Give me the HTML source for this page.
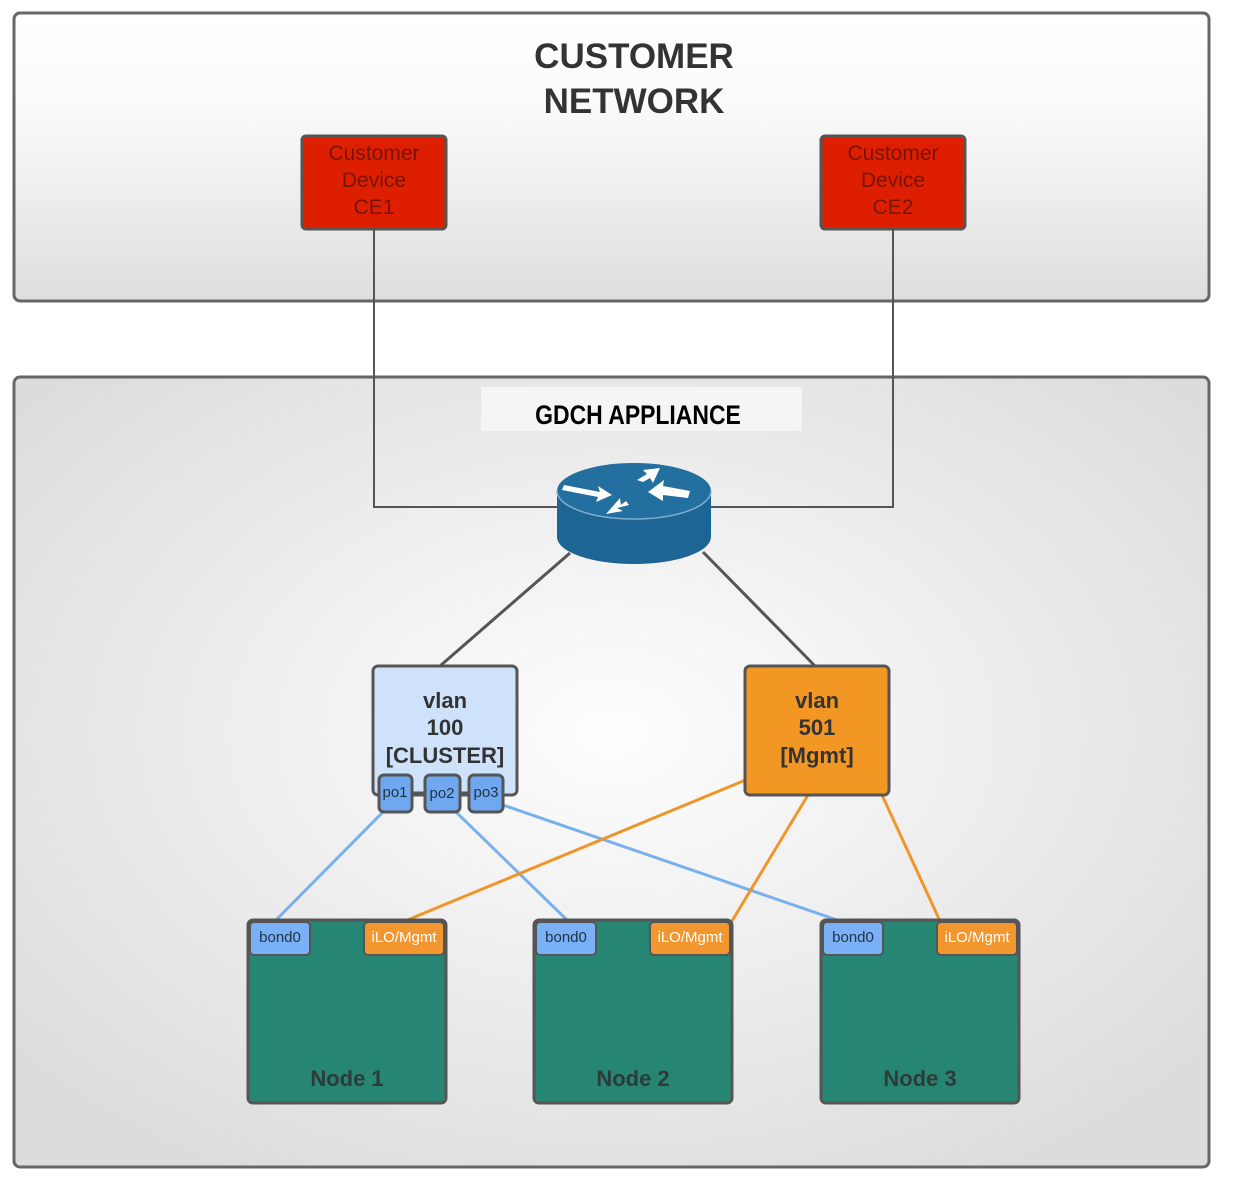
<!DOCTYPE html>
<html><head><meta charset="utf-8"><style>html,body{margin:0;padding:0;background:#fff}svg{display:block}</style></head><body>
<svg width="1241" height="1190" viewBox="0 0 1241 1190" xmlns="http://www.w3.org/2000/svg" font-family="Liberation Sans, Arial, sans-serif">
<defs>
<linearGradient id="g1" x1="0" y1="0" x2="0" y2="1"><stop offset="0" stop-color="#fff"/><stop offset="0.3" stop-color="#fbfbfb"/><stop offset="1" stop-color="#dedede"/></linearGradient>
<radialGradient id="g2" cx="0.5" cy="0.45" r="0.65"><stop offset="0" stop-color="#fefefe"/><stop offset="1" stop-color="#dcdcdc"/></radialGradient>
</defs>
<rect x="0" y="0" width="1241" height="1190" fill="#fff"/>
<rect x="14" y="13" width="1195" height="288" rx="6" fill="url(#g1)" stroke="#666" stroke-width="3"/>
<text x="634" y="68" text-anchor="middle" font-size="35" font-weight="bold" fill="#333">CUSTOMER</text>
<text x="634" y="113" text-anchor="middle" font-size="35" font-weight="bold" fill="#333">NETWORK</text>
<rect x="14" y="377" width="1195" height="790" rx="6" fill="url(#g2)" stroke="#666" stroke-width="3"/>
<rect x="481" y="387" width="321" height="44" fill="#f5f5f5"/>
<text x="638" y="424" text-anchor="middle" font-size="27" font-weight="bold" fill="#000" transform="translate(638 0) scale(0.85 1) translate(-638 0)">GDCH APPLIANCE</text>
<path d="M374 229 V507 H560 M893 229 V507 H710" fill="none" stroke="#555" stroke-width="2"/>
<g font-size="21" fill="#7a1408" text-anchor="middle">
<rect x="302" y="136" width="144" height="93" rx="4" fill="#dd1f00" stroke="#555" stroke-width="3"/>
<text x="374" y="160">Customer</text><text x="374" y="187">Device</text><text x="374" y="214">CE1</text>
<rect x="821" y="136" width="144" height="93" rx="4" fill="#dd1f00" stroke="#555" stroke-width="3"/>
<text x="893" y="160">Customer</text><text x="893" y="187">Device</text><text x="893" y="214">CE2</text>
</g>
<line x1="570" y1="553" x2="440" y2="666" stroke="#555" stroke-width="3"/>
<line x1="703" y1="552" x2="815" y2="666" stroke="#555" stroke-width="3"/>
<path d="M557 491 V537 A77 27 0 0 0 711 537 V491 Z" fill="#1c6594"/>
<ellipse cx="634" cy="491" rx="77" ry="28" fill="#236f9f"/>
<path d="M557 491 A77 28 0 0 0 711 491" fill="none" stroke="#7fb0d0" stroke-width="1.5"/>
<g fill="#fff">
<polygon points="564,485 600,492 598,486 612,495 596,502 598,497 562,490"/>
<polygon points="643,482 650,478 653,483 660,468 643,470 647,474 637,480"/>
<polygon points="688,498 690,491 663,486 664,480 648,492 663,501 663,495"/>
<polygon points="626,501 621,505 620,498 606,514 623,511 617,508 629,505"/>
</g>
<g stroke="#79b0ee" stroke-width="3">
<line x1="384" y1="811" x2="275" y2="921"/>
<line x1="455" y1="811" x2="568" y2="921"/>
<line x1="500" y1="804" x2="840" y2="921"/>
</g>
<g stroke="#f0952a" stroke-width="3">
<line x1="748" y1="779" x2="405" y2="921"/>
<line x1="808" y1="795" x2="732" y2="921"/>
<line x1="882" y1="795" x2="940" y2="921"/>
</g>
<rect x="373" y="666" width="144" height="129" rx="5" fill="#cfe2fb" stroke="#555" stroke-width="3"/>
<g font-size="22" font-weight="bold" fill="#333" text-anchor="middle">
<text x="445" y="708">vlan</text><text x="445" y="735">100</text><text x="445" y="763">[CLUSTER]</text>
</g>
<rect x="745" y="666" width="144" height="129" rx="5" fill="#f29624" stroke="#555" stroke-width="3"/>
<g font-size="22" font-weight="bold" fill="#333" text-anchor="middle">
<text x="817" y="708">vlan</text><text x="817" y="735">501</text><text x="817" y="763">[Mgmt]</text>
</g>
<line x1="412" y1="793" x2="469" y2="793" stroke="#555" stroke-width="3"/>
<g fill="#6fa8f0" stroke="#555" stroke-width="3">
<rect x="379" y="775" width="33" height="37" rx="5"/>
<rect x="425" y="775" width="35" height="37" rx="5"/>
<rect x="469" y="775" width="34" height="37" rx="5"/>
</g>
<g font-size="15" fill="#234" text-anchor="middle">
<text x="395" y="797">po1</text><text x="442" y="798">po2</text><text x="486" y="797">po3</text>
</g>
<g font-size="15" fill="#234">
<g>
<rect x="248" y="920" width="198" height="183" rx="5" fill="#278573" stroke="#555" stroke-width="3"/>
<rect x="250" y="922" width="60" height="33" rx="4" fill="#7ab0f5" stroke="#555" stroke-width="2"/>
<rect x="364" y="922" width="80" height="33" rx="4" fill="#f29630" stroke="#555" stroke-width="2"/>
<text x="280" y="942" text-anchor="middle">bond0</text><text x="404" y="942" text-anchor="middle" fill="#fff">iLO/Mgmt</text>
<text x="347" y="1086" text-anchor="middle" font-size="22" font-weight="bold" fill="#2f3b38">Node 1</text>
</g>
<g>
<rect x="534" y="920" width="198" height="183" rx="5" fill="#278573" stroke="#555" stroke-width="3"/>
<rect x="536" y="922" width="60" height="33" rx="4" fill="#7ab0f5" stroke="#555" stroke-width="2"/>
<rect x="650" y="922" width="80" height="33" rx="4" fill="#f29630" stroke="#555" stroke-width="2"/>
<text x="566" y="942" text-anchor="middle">bond0</text><text x="690" y="942" text-anchor="middle" fill="#fff">iLO/Mgmt</text>
<text x="633" y="1086" text-anchor="middle" font-size="22" font-weight="bold" fill="#2f3b38">Node 2</text>
</g>
<g>
<rect x="821" y="920" width="198" height="183" rx="5" fill="#278573" stroke="#555" stroke-width="3"/>
<rect x="823" y="922" width="60" height="33" rx="4" fill="#7ab0f5" stroke="#555" stroke-width="2"/>
<rect x="937" y="922" width="80" height="33" rx="4" fill="#f29630" stroke="#555" stroke-width="2"/>
<text x="853" y="942" text-anchor="middle">bond0</text><text x="977" y="942" text-anchor="middle" fill="#fff">iLO/Mgmt</text>
<text x="920" y="1086" text-anchor="middle" font-size="22" font-weight="bold" fill="#2f3b38">Node 3</text>
</g>
</g>
</svg>
</body></html>
